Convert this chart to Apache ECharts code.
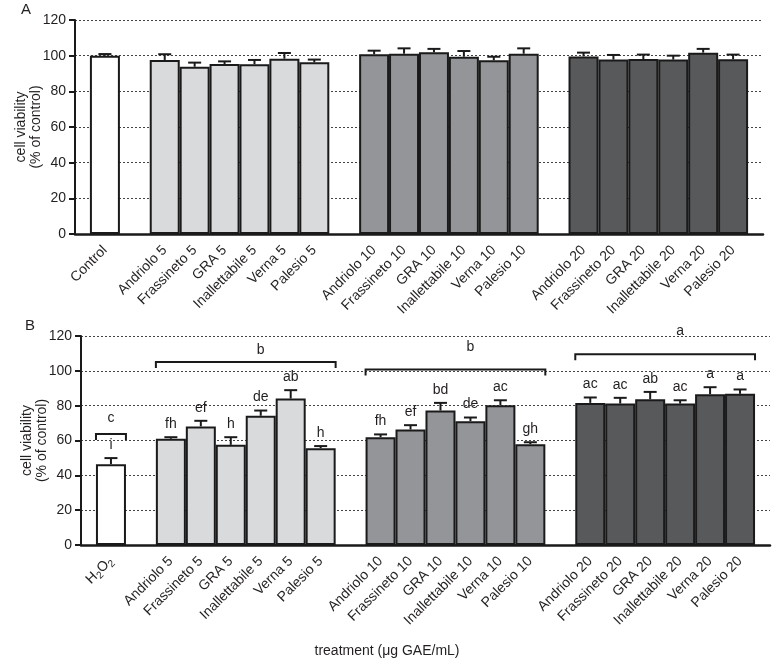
<!DOCTYPE html>
<html>
<head>
<meta charset="utf-8">
<script src="https://cdn.jsdelivr.net/npm/echarts@6/dist/echarts.min.js"></script>
<style>
html,body{margin:0;padding:0;background:#fff;}
#chart{width:774px;height:660px;}
</style>
</head>
<body>
<div id="chart"></div>
<script>
// ---------- DATA ----------
const controlLabelA = 'Control';
const controlLabelB = 'H2O2';
const treatmentLabels = [
  'Andriolo 5','Frassineto 5','GRA 5','Inallettabile 5','Verna 5','Palesio 5',
  'Andriolo 10','Frassineto 10','GRA 10','Inallettabile 10','Verna 10','Palesio 10',
  'Andriolo 20','Frassineto 20','GRA 20','Inallettabile 20','Verna 20','Palesio 20'
];
// Panel A (control first, then 18 treatments)
const valuesA = [100.0,
  97.6, 93.8, 95.3, 95.2, 98.3, 96.3,
  100.8, 101.1, 101.9, 99.4, 97.4, 101.1,
  99.6, 97.8, 98.1, 97.8, 101.7, 98.0];
const errorsA = [0.9,
  3.2, 2.3, 1.5, 2.4, 3.2, 1.5,
  2.0, 3.0, 1.9, 3.2, 2.0, 3.0,
  2.1, 2.6, 2.5, 2.2, 2.1, 2.6];
// Panel B (H2O2 first, then 18 treatments)
const valuesB = [46.4,
  61.0, 68.1, 57.5, 74.2, 84.1, 55.6,
  61.9, 66.3, 77.2, 71.1, 80.3, 57.9,
  81.6, 81.2, 83.7, 81.2, 86.6, 86.8];
const errorsB = [3.5,
  0.9, 3.2, 4.4, 3.0, 4.8, 1.2,
  1.6, 2.5, 4.4, 2.1, 2.8, 1.1,
  3.1, 3.3, 4.2, 1.9, 4.0, 2.5];
const lettersB = ['i',
  'fh','ef','h','de','ab','h',
  'fh','ef','bd','de','ac','gh',
  'ac','ac','ab','ac','a','a'];
// Brackets in panel B (bar indices, level, letter, letter level)
const bracketFrom = [0, 1, 7, 13];
const bracketTo = [0, 6, 12, 18];
const bracketLevel = [63.8, 105.1, 100.7, 109.5];
const bracketLetter = ['c', 'b', 'b', 'a'];
const bracketLetterLevel = [72.6, 111.8, 113.4, 122.7];

// ---------- LAYOUT HELPERS ----------
const FONT = 'Liberation Sans, Arial, Helvetica, sans-serif';
const TXT = '#231f20';
const groupColors = ['#ffffff', '#d9dadc', '#939598', '#58595b'];
function slotOf(i) { return i === 0 ? 1 : 3 + (i - 1) + Math.floor((i - 1) / 6); }
function colorOf(i) { return i === 0 ? groupColors[0] : groupColors[1 + Math.floor((i - 1) / 6)]; }
function buildCats(ctrl) {
  const cats = [];
  const all = [ctrl].concat(treatmentLabels);
  for (let s = 0; s < 24; s++) cats.push('_p' + s);
  all.forEach((name, i) => { cats[slotOf(i)] = name; });
  return cats;
}
const catsA = buildCats(controlLabelA);
const catsB = buildCats(controlLabelB);

function barData(vals) {
  return vals.map((v, i) => ({ value: [slotOf(i), v], itemStyle: { color: colorOf(i) } }));
}
function errData(vals, errs) {
  return vals.map((v, i) => [slotOf(i), v, errs[i]]);
}
function errRender(letters) {
  return function (params, api) {
    const x = api.value(0), v = api.value(1), e = api.value(2);
    const p0 = api.coord([x, v]);
    const p1 = api.coord([x, v + e]);
    const children = [
      { type: 'line', shape: { x1: p0[0], y1: p0[1], x2: p1[0], y2: p1[1] }, style: { stroke: '#1a1a1a', lineWidth: 2 } },
      { type: 'line', shape: { x1: p1[0] - 6.5, y1: p1[1], x2: p1[0] + 6.5, y2: p1[1] }, style: { stroke: '#1a1a1a', lineWidth: 2 } }
    ];
    if (letters) {
      children.push({ type: 'text', style: { text: letters[params.dataIndex], x: p1[0], y: p1[1] - 6, align: 'center', verticalAlign: 'bottom', fontSize: 14, fontFamily: FONT, fill: TXT } });
    }
    return { type: 'group', children };
  };
}

const yAxisCommon = {
  type: 'value', min: 0, max: 120, interval: 20,
  name: 'cell viability\n(% of control)', nameLocation: 'middle', nameGap: 31, nameMoveOverlap: false,
  nameTextStyle: { fontSize: 14, fontFamily: FONT, color: TXT, lineHeight: 15 },
  axisLine: { show: true, lineStyle: { color: '#1a1a1a', width: 2 } },
  axisTick: { show: true, inside: false, length: 6, lineStyle: { color: '#1a1a1a', width: 2 } },
  axisLabel: { fontSize: 14, fontFamily: FONT, color: TXT, margin: 9 },
  splitLine: { show: true, lineStyle: { color: '#444', width: 1, type: [2, 2] } }
};
function xAxisCommon(cats, gridIndex) {
  return {
    type: 'category', gridIndex, data: cats, boundaryGap: false,
    axisLine: { show: true, lineStyle: { color: '#1a1a1a', width: 2.5 } },
    axisTick: { show: false },
    splitLine: { show: false },
    axisLabel: {
      interval: 0, rotate: 45, margin: 14, fontSize: 14, fontFamily: FONT, color: TXT,
      formatter: function (val) {
        if (val.indexOf('_p') === 0) return '';
        if (val === 'H2O2') return '{n|H}{s|2}{n|O}{s|2}';
        return val;
      },
      rich: {
        n: { fontSize: 14, fontFamily: FONT, color: TXT, lineHeight: 18, verticalAlign: 'middle' },
        s: { fontSize: 10, fontFamily: FONT, color: TXT, lineHeight: 18, padding: [8, 0, 0, 0] }
      }
    }
  };
}

const option = {
  animation: false,
  grid: [
    { left: 75, top: 20, width: 688, height: 214, containLabel: false, outerBoundsMode: 'none' },
    { left: 81, top: 336, width: 689, height: 209, containLabel: false, outerBoundsMode: 'none' }
  ],
  xAxis: [xAxisCommon(catsA, 0), xAxisCommon(catsB, 1)],
  yAxis: [Object.assign({ gridIndex: 0 }, yAxisCommon), Object.assign({ gridIndex: 1 }, yAxisCommon)],
  graphic: [
    { type: 'text', left: 21, top: 2, style: { text: 'A', fontSize: 15, fontFamily: FONT, fill: TXT } },
    { type: 'text', left: 25, top: 318, style: { text: 'B', fontSize: 15, fontFamily: FONT, fill: TXT } },
    { type: 'text', x: 387, y: 651, style: { text: 'treatment (\u03bcg GAE/mL)', align: 'center', verticalAlign: 'middle', fontSize: 14, fontFamily: FONT, fill: TXT } }
  ],
  series: [
    { type: 'bar', xAxisIndex: 0, yAxisIndex: 0, barWidth: 30, data: barData(valuesA),
      itemStyle: { borderColor: '#1a1a1a', borderWidth: 2 } },
    { type: 'custom', xAxisIndex: 0, yAxisIndex: 0, z: 5, clip: false, data: errData(valuesA, errorsA),
      encode: { x: 0, y: [1, 2] }, renderItem: errRender(null) },
    { type: 'bar', xAxisIndex: 1, yAxisIndex: 1, barWidth: 30, data: barData(valuesB),
      itemStyle: { borderColor: '#1a1a1a', borderWidth: 2 } },
    { type: 'custom', xAxisIndex: 1, yAxisIndex: 1, z: 5, clip: false, data: errData(valuesB, errorsB),
      encode: { x: 0, y: [1, 2] }, renderItem: errRender(lettersB) },
    { type: 'custom', xAxisIndex: 1, yAxisIndex: 1, z: 5, clip: false,
      data: bracketFrom.map((f, i) => [slotOf(f), slotOf(bracketTo[i]), bracketLevel[i], bracketLetterLevel[i]]),
      encode: { x: [0, 1], y: [2, 3] },
      renderItem: function (params, api) {
        const a = api.coord([api.value(0), api.value(2)]);
        const b = api.coord([api.value(1), api.value(2)]);
        const half = api.size([1, 0])[0] / 2;
        const t = api.coord([(api.value(0) + api.value(1)) / 2, api.value(3)]);
        return { type: 'group', children: [
          { type: 'polyline', shape: { points: [[a[0] - half, a[1] + 6], [a[0] - half, a[1]], [b[0] + half, b[1]], [b[0] + half, b[1] + 6]] },
            style: { stroke: '#1a1a1a', lineWidth: 2, fill: null } },
          { type: 'text', style: { text: bracketLetter[params.dataIndex], x: t[0], y: t[1], align: 'center', verticalAlign: 'middle', fontSize: 14, fontFamily: FONT, fill: TXT } }
        ] };
      }
    }
  ]
};
const chart = echarts.init(document.getElementById('chart'), null, { renderer: 'canvas' });
chart.setOption(option);
</script>
</body>
</html>
